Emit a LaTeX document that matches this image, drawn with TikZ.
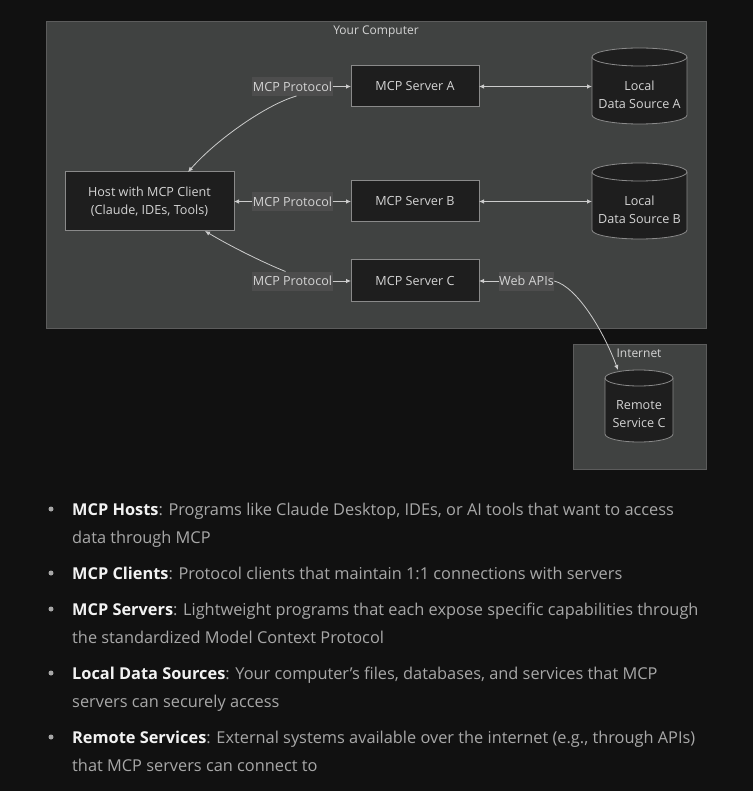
\documentclass[tikz,border=0pt]{standalone}
\usepackage{fontspec}
\setmainfont{Open Sans}
\usetikzlibrary{arrows.meta,calc}
\definecolor{bg}{HTML}{111111}
\definecolor{cont}{HTML}{404241}
\definecolor{contline}{HTML}{5C5C5C}
\definecolor{nodefill}{HTML}{1E1E1E}
\definecolor{nodeline}{HTML}{8A8A8A}
\definecolor{lblfill}{HTML}{4D4D4D}
\definecolor{txt}{HTML}{D4D4D4}
\definecolor{edgec}{HTML}{CCCCCC}
\definecolor{desc}{HTML}{A8A8A8}
\definecolor{head}{HTML}{F2F2F2}
\newcommand\mycyl[3]{%
  \draw[draw=nodeline, fill=nodefill, line width=0.8pt]
    ($(#1.north west)+(0,#3)$) -- ($(#1.south west)+(0,-#3)$)
    arc[start angle=180,end angle=360,x radius=#2pt,y radius=#3pt]
    -- ($(#1.north east)+(0,#3)$)
    arc[start angle=0,end angle=180,x radius=#2pt,y radius=#3pt] -- cycle;
  \draw[draw=nodeline, line width=0.8pt] ($(#1.north west)+(0,#3)$)
    arc[start angle=180,end angle=360,x radius=#2pt,y radius=#3pt];
}
\tikzset{
  container/.style={draw=contline, fill=cont, line width=0.8pt, anchor=north west, inner sep=0pt, outer sep=0pt},
  srv/.style={draw=nodeline, fill=nodefill, line width=1pt, text=txt, font=\fontsize{12.6}{18}\selectfont, minimum width=128pt, minimum height=41pt, inner sep=0pt, outer sep=0pt, align=center},
  lbl/.style={fill=lblfill, text=txt, font=\fontsize{12.6}{15}\selectfont, inner xsep=0.5pt, inner ysep=0pt, minimum height=19pt, outer sep=0pt},
  cylbox/.style={inner sep=0pt, outer sep=0pt},
  cyltext/.style={text=txt, font=\fontsize{12.6}{18}\selectfont, align=center, inner sep=0pt},
  ttl/.style={text=txt, font=\fontsize{12}{14}\selectfont, inner sep=0pt},
  arr/.style={draw=edgec, line width=0.8pt, -{Latex[length=5pt,width=4.5pt]}},
  bi/.style={draw=edgec, line width=0.8pt, {Latex[length=5pt,width=4.5pt]}-{Latex[length=5pt,width=4.5pt]}},
  line/.style={anchor=base west, inner sep=0pt, text=desc, font=\fontsize{16.35}{20}\selectfont},
  dot/.style={circle, fill=desc, inner sep=0pt, minimum size=5pt},
}
\newcommand\hd[1]{\textcolor{head}{\textbf{#1}}}
\begin{document}
\begin{tikzpicture}[x=1pt,y=-1pt]
\fill[bg] (0,0) rectangle (753,791);
\useasboundingbox (0,0) rectangle (753,791);

% containers
\node[container, minimum width=660pt, minimum height=307pt] (comp) at (46,21) {};
\node[ttl] (compT) at (376,31.5) {Your Computer};
\node[container, minimum width=133pt, minimum height=125pt] (inet) at (573,344) {};
\node[ttl] (inetT) at (639,353.5) {Internet};

% nodes
\node[srv] (sa) at (415,86.5) {MCP Server A};
\node[srv] (sb) at (415,201.5) {MCP Server B};
\node[srv] (sc) at (415,280.5) {MCP Server C};
\node[srv, minimum width=169pt, minimum height=59pt] (host) at (149.5,201.5) {Host with MCP Client\\(Claude, IDEs, Tools)};

% cylinders
\node[cylbox, minimum width=95pt, minimum height=76pt] (dsa) at (639.5,86) {};
\mycyl{dsa}{47.5}{9}
\node[cyltext] (dsaT) at (639.5,94.5) {Local\\Data Source A};
\node[cylbox, minimum width=95pt, minimum height=76pt] (dsb) at (639.5,201) {};
\mycyl{dsb}{47.5}{9}
\node[cyltext] (dsbT) at (639.5,209.5) {Local\\Data Source B};
\node[cylbox, minimum width=68pt, minimum height=72pt] (rsc) at (639,406) {};
\mycyl{rsc}{34}{8}
\node[cyltext] (rscT) at (639,414) {Remote\\Service C};

% labels
\node[lbl] (lblA) at (292.5,86.5) {MCP Protocol};
\node[lbl] (lblB) at (292.5,201.5) {MCP Protocol};
\node[lbl] (lblC) at (292.5,281) {MCP Protocol};
\node[lbl] (web) at (526.5,281) {Web APIs};

% edges
\draw[arr] (lblA.east) -- (sa.west |- lblA.east);
\draw[arr] ([xshift=4pt]lblA.south) .. controls (268,104) and (218,138) .. ([xshift=38.5pt]host.north);
\draw[arr] (lblB.west) -- (host.east |- lblB.west);
\draw[arr] (lblB.east) -- (sb.west |- lblB.east);
\draw[arr] (lblC.east) -- (sc.west |- lblC.east);
\draw[arr] ([xshift=-7pt]lblC.north) .. controls (262,262) and (230,246) .. ([xshift=55.5pt]host.south);
\draw[bi] (sa.east) -- (dsa.west |- sa.east);
\draw[bi] (sb.east) -- (dsb.west |- sb.east);
\draw[arr] (web.west) -- (sc.east |- web.west);
\draw[arr] (web.east) .. controls (577,287) and (603,330) .. ([xshift=-21pt]rsc.north);

% bullets
\node[dot] (d1) at (51,509) {};
\node[line] (l1a) at (72,515) {\hd{MCP Hosts}: Programs like Claude Desktop, IDEs, or AI tools that want to access};
\node[line] (l1b) at (72,543) {data through MCP};
\node[dot] (d2) at (51,573) {};
\node[line] (l2a) at (72,579) {\hd{MCP Clients}: Protocol clients that maintain 1:1 connections with servers};
\node[dot] (d3) at (51,609) {};
\node[line] (l3a) at (72,615) {\hd{MCP Servers}: Lightweight programs that each expose specific capabilities through};
\node[line] (l3b) at (72,643) {the standardized Model Context Protocol};
\node[dot] (d4) at (51,673) {};
\node[line] (l4a) at (72,679) {\hd{Local Data Sources}: Your computer’s files, databases, and services that MCP};
\node[line] (l4b) at (72,707) {servers can securely access};
\node[dot] (d5) at (51,737) {};
\node[line] (l5a) at (72,743) {\hd{Remote Services}: External systems available over the internet (e.g., through APIs)};
\node[line] (l5b) at (72,771) {that MCP servers can connect to};
\end{tikzpicture}
\end{document}
